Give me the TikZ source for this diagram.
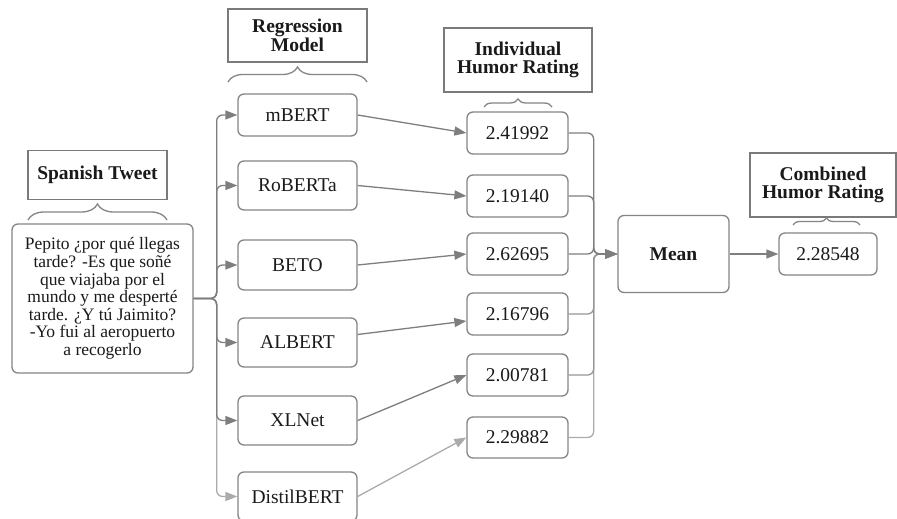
\documentclass[tikz,border=0pt]{standalone}
\usepackage{fontspec}
\setmainfont{Liberation Serif}
\usetikzlibrary{arrows.meta,decorations.pathreplacing}
\AtBeginDocument{\lineskiplimit=-100pt\lineskip=0pt}
\definecolor{boxgray}{HTML}{858585}
\definecolor{titlegray}{HTML}{7A7A7A}
\definecolor{linedark}{HTML}{7E7E7E}
\definecolor{linemid}{HTML}{969696}
\definecolor{linelight}{HTML}{ABABAB}
\definecolor{txt}{HTML}{1A1A1A}
\tikzset{
  titlebox/.style={draw=titlegray, line width=1.3pt, rectangle, inner sep=0pt, align=center, text=txt,
    font=\fontsize{19.5}{18.5}\selectfont\bfseries},
  rbox/.style={draw=boxgray, line width=1.3pt, rounded corners=6pt, inner sep=0pt, align=center, text=txt,
    font=\fontsize{19.5}{17.2}\selectfont},
  conn/.style={draw=linedark, line width=1.3pt, rounded corners=6pt, -{Triangle[length=12pt,width=9pt]}},
  bracestyle/.style={draw=boxgray, line width=1.3pt, decorate, decoration={brace, raise=0pt}}
}
\begin{document}
\begin{tikzpicture}[x=1pt,y=-1pt]
\clip (0,0) rectangle (897,519);
\fill[white] (0,0) rectangle (897,519);
% titles
\node[titlebox, minimum width=139pt, minimum height=49pt] (tt) at (97.5,175) {Spanish Tweet};
\node[titlebox, minimum width=139pt, minimum height=53pt] (rt) at (297.5,35.5) {Regression\\Model};
\node[titlebox, minimum width=148pt, minimum height=64pt] (it) at (518,60) {Individual\\Humor Rating};
\node[titlebox, minimum width=146pt, minimum height=64pt] (ct) at (823,185) {Combined\\Humor Rating};
% braces
\draw[bracestyle, decoration={amplitude=16pt}] (28,220) -- (167,220);
\draw[bracestyle, decoration={amplitude=15pt}] (228,82) -- (367,82);
\draw[bracestyle, decoration={amplitude=8pt}] (484,107) -- (552,107);
\draw[bracestyle, decoration={amplitude=7pt}] (793,225) -- (860,225);
% tweet
\node[rbox, minimum width=181pt, minimum height=149pt, font=\fontsize{17.5}{17.6}\selectfont] (tweet) at (102.5,298.5)
  {Pepito ¿por qué llegas\\tarde? -Es que soñé\\que viajaba por el\\mundo y me desperté\\tarde. ¿Y tú Jaimito?\\-Yo fui al aeropuerto\\a recogerlo};
% models
\node[rbox, minimum width=119pt, minimum height=42pt] (m1) at (297.5,115) {mBERT};
\node[rbox, minimum width=119pt, minimum height=49pt] (m2) at (297.5,185.5) {RoBERTa};
\node[rbox, minimum width=119pt, minimum height=50pt] (m3) at (297.5,265) {BETO};
\node[rbox, minimum width=119pt, minimum height=49pt] (m4) at (297.5,342.5) {ALBERT};
\node[rbox, minimum width=119pt, minimum height=49pt] (m5) at (297.5,420.5) {XLNet};
\node[rbox, minimum width=119pt, minimum height=49pt] (m6) at (297.5,496.5) {DistilBERT};
% ratings
\node[rbox, minimum width=101pt, minimum height=42pt] (r1) at (517.5,133) {2.41992};
\node[rbox, minimum width=101pt, minimum height=42pt] (r2) at (517.5,196) {2.19140};
\node[rbox, minimum width=101pt, minimum height=42pt] (r3) at (517.5,254) {2.62695};
\node[rbox, minimum width=101pt, minimum height=42pt] (r4) at (517.5,314) {2.16796};
\node[rbox, minimum width=101pt, minimum height=42pt] (r5) at (517.5,375) {2.00781};
\node[rbox, minimum width=101pt, minimum height=41pt] (r6) at (517.5,437.5) {2.29882};
% mean and result
\node[rbox, minimum width=111pt, minimum height=77pt, font=\fontsize{19.5}{18}\selectfont\bfseries] (mean) at (673.5,254) {Mean};
\node[rbox, minimum width=98pt, minimum height=42pt] (res) at (828,254) {2.28548};
% tweet to models
\draw[conn, draw=linelight, -{Triangle[length=12pt,width=9pt,fill=linelight]}] (tweet.east) -- ++(23,0) |- (m6.west);
\draw[conn] (tweet.east) -- ++(23,0) |- (m5.west);
\draw[conn] (tweet.east) -- ++(23,0) |- (m4.west);
\draw[conn] (tweet.east) -- ++(23,0) |- (m3.west);
\draw[conn] (tweet.east) -- ++(23,0) |- (m2.west);
\draw[conn] (tweet.east) -- ++(23,0) |- (m1.west);
% models to ratings
\draw[conn] (m1.east) -- (r1.west);
\draw[conn] (m2.east) -- (r2.west);
\draw[conn] (m3.east) -- (r3.west);
\draw[conn] ([yshift=8pt]m4.east) -- ([yshift=-7pt]r4.west);
\draw[conn] (m5.east) -- (r5.west);
\draw[conn, draw=linelight, -{Triangle[length=12pt,width=9pt,fill=linelight]}] (m6.east) -- (r6.west);
% ratings to mean
\draw[conn, draw=linelight, -{Triangle[length=12pt,width=9pt,fill=linelight]}] (r6.east) -- ++(25,0) |- (mean.west);
\draw[conn, draw=linemid, -{Triangle[length=12pt,width=9pt,fill=linemid]}] (r5.east) -- ++(25,0) |- (mean.west);
\draw[conn, draw=linemid, -{Triangle[length=12pt,width=9pt,fill=linemid]}] (r4.east) -- ++(25,0) |- (mean.west);
\draw[conn] (r3.east) -- ++(25,0) |- (mean.west);
\draw[conn] (r2.east) -- ++(25,0) |- (mean.west);
\draw[conn] (r1.east) -- ++(25,0) |- (mean.west);
% mean to result
\draw[conn] (mean.east) -- (res.west);
\end{tikzpicture}
\end{document}
